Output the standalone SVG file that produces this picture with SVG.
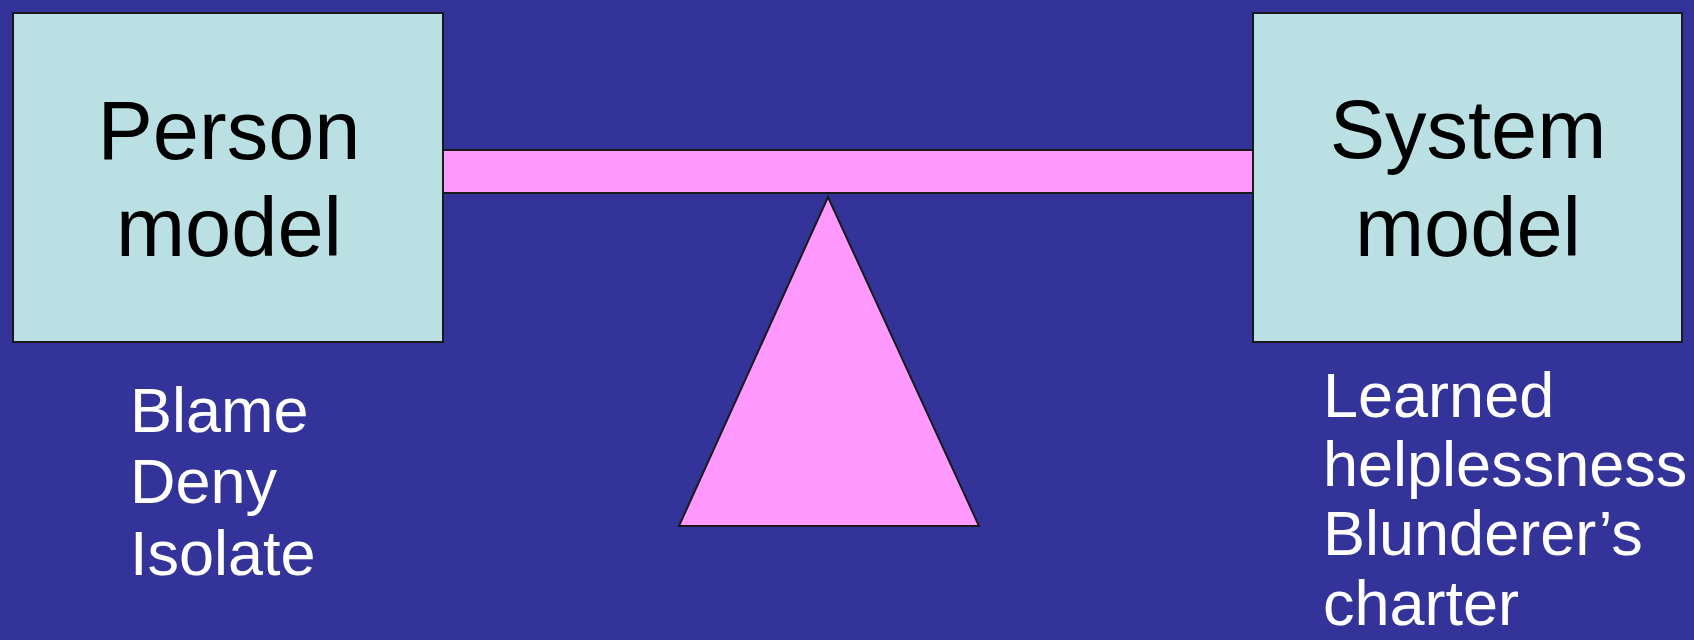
<svg xmlns="http://www.w3.org/2000/svg" width="1694" height="640" viewBox="0 0 1694 640">
<style>
.box{fill:#BBE0E3;stroke:#1a1a1a;stroke-width:2}
.pink{fill:#FF99FF;stroke:#1a1a1a;stroke-width:2}
.big{font-family:"Liberation Sans",Arial,sans-serif;font-size:83px;fill:#000;text-anchor:middle}
.small{font-family:"Liberation Sans",Arial,sans-serif;font-size:63px;fill:#fff}
</style>
<rect x="0" y="0" width="1694" height="640" fill="#333399"/>
<g id="connectors">
<rect id="beam" class="pink" x="443" y="150" width="810" height="43"/>
</g>
<g id="fulcrum">
<polygon class="pink" points="828,197 979,526 679,526"/>
</g>
<g id="person-model">
<rect class="box" x="13" y="13" width="430" height="329"/>
<text class="big" x="229" y="159">Person</text>
<text class="big" x="229" y="256">model</text>
</g>
<g id="system-model">
<rect class="box" x="1253" y="13" width="429" height="329"/>
<text class="big" x="1468" y="158">System</text>
<text class="big" x="1468" y="256">model</text>
</g>
<g id="person-effects">
<text class="small" x="130" y="432">Blame</text>
<text class="small" x="130" y="503">Deny</text>
<text class="small" x="130" y="575">Isolate</text>
</g>
<g id="system-effects">
<text class="small" x="1323" y="417">Learned</text>
<text class="small" x="1323" y="486">helplessness</text>
<text class="small" x="1323" y="555">Blunderer’s</text>
<text class="small" x="1323" y="625">charter</text>
</g>
</svg>
